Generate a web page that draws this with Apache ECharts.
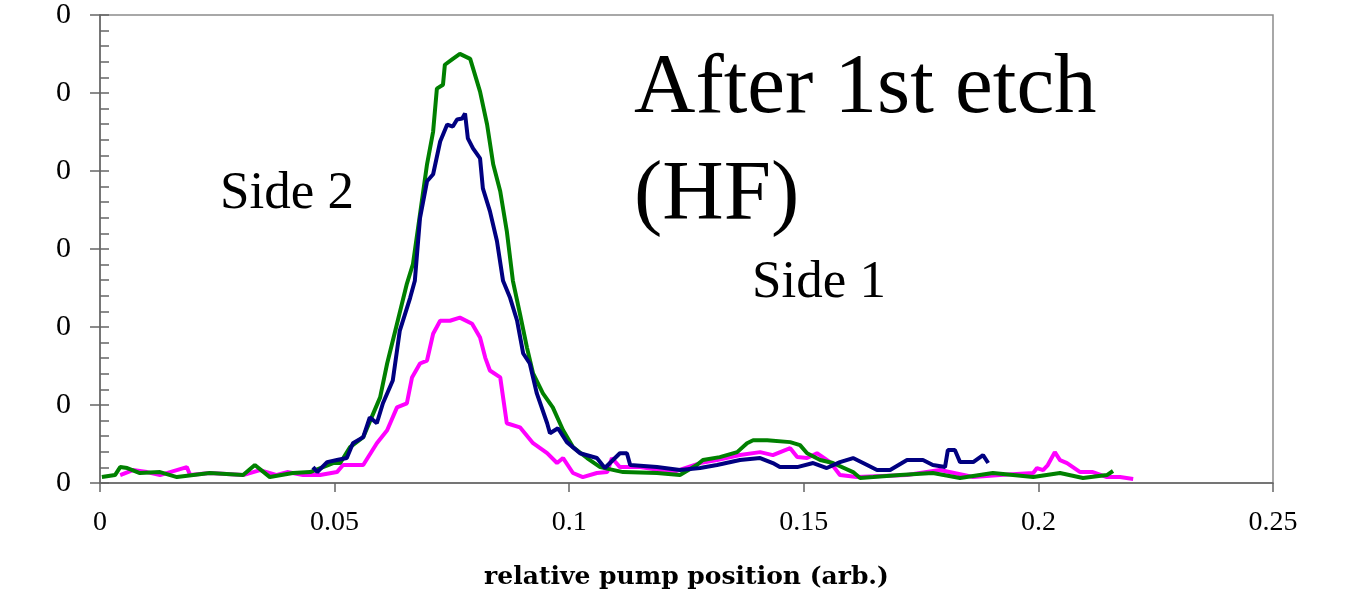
<!DOCTYPE html>
<html>
<head>
<meta charset="utf-8">
<script src="https://cdn.jsdelivr.net/npm/echarts@6/dist/echarts.min.js"></script>
<style>
    html, body { margin: 0; padding: 0; background: #fff; }
    #chart { width: 1354px; height: 595px; }
</style>
</head>
<body>
<div id="chart"></div>
<script>
// tick labels as printed on the original
const xTickLabels = ['0', '0.05', '0.1', '0.15', '0.2', '0.25'];
const yTickLabels = ['0', '0', '0', '0', '0', '0', '0'];

// magenta trace [position, signal]
const magentaTrace = [
    [0.0043, 0.0051], [0.0070, 0.0083], [0.0100, 0.0070], [0.0128, 0.0051], [0.0185, 0.0102],
    [0.0192, 0.0051], [0.0234, 0.0064], [0.0305, 0.0051], [0.0341, 0.0083], [0.0377, 0.0051],
    [0.0399, 0.0070], [0.0433, 0.0051], [0.0469, 0.0051], [0.0505, 0.0070], [0.0518, 0.0115],
    [0.0561, 0.0115], [0.0590, 0.0255], [0.0612, 0.0338], [0.0633, 0.0485], [0.0654, 0.0511],
    [0.0665, 0.0677], [0.0682, 0.0766], [0.0697, 0.0785], [0.0710, 0.0957], [0.0725, 0.1040],
    [0.0746, 0.1040], [0.0767, 0.1060], [0.0793, 0.1021], [0.0810, 0.0932], [0.0821, 0.0804],
    [0.0831, 0.0721], [0.0853, 0.0677], [0.0867, 0.0383], [0.0895, 0.0357], [0.0923, 0.0255],
    [0.0953, 0.0191], [0.0974, 0.0128], [0.0987, 0.0160], [0.1008, 0.0064], [0.1029, 0.0038],
    [0.1059, 0.0064], [0.1081, 0.0070], [0.1091, 0.0160], [0.1108, 0.0102], [0.1151, 0.0102],
    [0.1221, 0.0070], [0.1279, 0.0128], [0.1315, 0.0147], [0.1364, 0.0179], [0.1407, 0.0198],
    [0.1434, 0.0179], [0.1471, 0.0223], [0.1486, 0.0166], [0.1507, 0.0160], [0.1528, 0.0191],
    [0.1556, 0.0134], [0.1577, 0.0051], [0.1613, 0.0038], [0.1720, 0.0051], [0.1790, 0.0083],
    [0.1861, 0.0038], [0.1918, 0.0051], [0.1989, 0.0064], [0.1997, 0.0096], [0.2010, 0.0083],
    [0.2020, 0.0115], [0.2035, 0.0198], [0.2046, 0.0147], [0.2061, 0.0128], [0.2089, 0.0070],
    [0.2116, 0.0070], [0.2146, 0.0038], [0.2174, 0.0038], [0.2202, 0.0026]
];

// green trace
const greenTrace = [
    [0.0004, 0.0038], [0.0032, 0.0051], [0.0043, 0.0102], [0.0058, 0.0096], [0.0085, 0.0064],
    [0.0128, 0.0070], [0.0164, 0.0038], [0.0234, 0.0064], [0.0305, 0.0051], [0.0330, 0.0115],
    [0.0362, 0.0038], [0.0411, 0.0064], [0.0448, 0.0070], [0.0497, 0.0128], [0.0512, 0.0128],
    [0.0533, 0.0230], [0.0561, 0.0294], [0.0597, 0.0549], [0.0612, 0.0766], [0.0633, 0.1021],
    [0.0654, 0.1277], [0.0667, 0.1404], [0.0682, 0.1723], [0.0697, 0.2043], [0.0710, 0.2253],
    [0.0718, 0.2528], [0.0731, 0.2553], [0.0735, 0.2681], [0.0752, 0.2719], [0.0767, 0.2751],
    [0.0789, 0.2719], [0.0810, 0.2509], [0.0825, 0.2298], [0.0838, 0.2043], [0.0853, 0.1870],
    [0.0867, 0.1615], [0.0880, 0.1296], [0.0895, 0.1085], [0.0910, 0.0868], [0.0923, 0.0702],
    [0.0944, 0.0574], [0.0965, 0.0485], [0.0987, 0.0338], [0.1008, 0.0230], [0.1038, 0.0160],
    [0.1066, 0.0102], [0.1115, 0.0070], [0.1187, 0.0064], [0.1236, 0.0051], [0.1272, 0.0115],
    [0.1285, 0.0147], [0.1321, 0.0166], [0.1358, 0.0198], [0.1379, 0.0255], [0.1392, 0.0274],
    [0.1422, 0.0274], [0.1471, 0.0262], [0.1492, 0.0243], [0.1507, 0.0191], [0.1535, 0.0147],
    [0.1562, 0.0128], [0.1605, 0.0070], [0.1620, 0.0032], [0.1648, 0.0038], [0.1705, 0.0051],
    [0.1775, 0.0064], [0.1833, 0.0032], [0.1903, 0.0064], [0.1989, 0.0038], [0.2046, 0.0064],
    [0.2095, 0.0032], [0.2146, 0.0051], [0.2159, 0.0077]
];

// navy trace
const navyTrace = [
    [0.0454, 0.0102], [0.0463, 0.0070], [0.0484, 0.0134], [0.0505, 0.0147], [0.0526, 0.0160],
    [0.0539, 0.0255], [0.0561, 0.0294], [0.0575, 0.0421], [0.0590, 0.0383], [0.0603, 0.0511],
    [0.0624, 0.0657], [0.0639, 0.0977], [0.0661, 0.1187], [0.0671, 0.1296], [0.0682, 0.1698],
    [0.0697, 0.1934], [0.0710, 0.1979], [0.0725, 0.2189], [0.0740, 0.2298], [0.0752, 0.2285],
    [0.0761, 0.2330], [0.0772, 0.2336], [0.0778, 0.2368], [0.0784, 0.2209], [0.0795, 0.2145],
    [0.0810, 0.2081], [0.0816, 0.1889], [0.0831, 0.1743], [0.0846, 0.1551], [0.0859, 0.1296],
    [0.0874, 0.1187], [0.0889, 0.1040], [0.0902, 0.0830], [0.0916, 0.0766], [0.0931, 0.0574],
    [0.0953, 0.0383], [0.0959, 0.0319], [0.0976, 0.0351], [0.0995, 0.0262], [0.1023, 0.0191],
    [0.1059, 0.0160], [0.1076, 0.0096], [0.1108, 0.0191], [0.1123, 0.0191], [0.1130, 0.0115],
    [0.1187, 0.0102], [0.1236, 0.0083], [0.1279, 0.0096], [0.1315, 0.0115], [0.1364, 0.0147],
    [0.1407, 0.0160], [0.1434, 0.0128], [0.1449, 0.0102], [0.1486, 0.0102], [0.1520, 0.0128],
    [0.1549, 0.0096], [0.1577, 0.0134], [0.1605, 0.0160], [0.1635, 0.0115], [0.1656, 0.0083],
    [0.1684, 0.0083], [0.1720, 0.0147], [0.1754, 0.0147], [0.1775, 0.0115], [0.1801, 0.0102],
    [0.1807, 0.0211], [0.1822, 0.0211], [0.1833, 0.0134], [0.1861, 0.0134], [0.1882, 0.0179],
    [0.1893, 0.0128]
];

const axisGrey = '#666';
const serif = '"Liberation Serif", "Times New Roman", serif';

const chart = echarts.init(document.getElementById('chart'));

function trace(data, color) {
    return {
        type: 'line',
        data: data,
        showSymbol: false,
        animation: false,
        lineStyle: { color: color, width: 4 }
    };
}

chart.setOption({
    animation: false,
    grid: {
        left: 100,
        right: 81,
        top: 13,
        bottom: 112,
        show: true,
        borderColor: '#8c8c8c',
        borderWidth: 1.5
    },
    xAxis: {
        type: 'value',
        min: 0,
        max: 0.25,
        interval: 0.05,
        name: 'relative pump position (arb.)',
        nameLocation: 'middle',
        nameGap: 82,
        nameTextStyle: {
            fontFamily: '"DejaVu Serif", serif',
            fontWeight: 'bold',
            fontSize: 25,
            color: '#000'
        },
        axisLine: { lineStyle: { color: axisGrey, width: 1.5 } },
        axisTick: { length: 9, lineStyle: { color: axisGrey, width: 1.5 } },
        axisLabel: {
            margin: 26,
            fontFamily: serif,
            fontSize: 28,
            color: '#000',
            formatter: (v, i) => xTickLabels[i]
        },
        splitLine: { show: false }
    },
    yAxis: [
        {
            type: 'value',
            min: 0,
            max: 0.3,
            interval: 0.05,
            axisLine: { show: true, lineStyle: { color: axisGrey, width: 1.5 } },
            axisTick: { show: true, inside: true, length: 9, lineStyle: { color: axisGrey, width: 1.5 } },
            minorTick: { show: true, splitNumber: 5, length: 9, lineStyle: { color: axisGrey, width: 1.5 } },
            axisLabel: {
                margin: 29,
                fontFamily: serif,
                fontSize: 30,
                color: '#000',
                formatter: (v, i) => yTickLabels[i]
            },
            splitLine: { show: false },
            minorSplitLine: { show: false }
        },
        {
            // outer half of the crossing major ticks
            type: 'value',
            position: 'left',
            min: 0,
            max: 0.3,
            interval: 0.05,
            axisLine: { show: false },
            axisTick: { show: true, length: 10, lineStyle: { color: axisGrey, width: 1.5 } },
            axisLabel: { show: false },
            splitLine: { show: false }
        }
    ],
    series: [
        trace(magentaTrace, '#ff00ff'),
        trace(greenTrace, '#008000'),
        trace(navyTrace, '#000080')
    ],
    graphic: [
        {
            type: 'text',
            left: 634,
            top: 36,
            style: {
                text: 'After 1st etch\n(HF)',
                fontFamily: serif,
                fontSize: 85,
                lineHeight: 107,
                fill: '#000'
            }
        },
        {
            type: 'text',
            left: 220,
            top: 168,
            style: { text: 'Side 2', fontFamily: serif, fontSize: 53, fill: '#000' }
        },
        {
            type: 'text',
            left: 752,
            top: 257,
            style: { text: 'Side 1', fontFamily: serif, fontSize: 53, fill: '#000' }
        }
    ]
});
</script>
</body>
</html>
